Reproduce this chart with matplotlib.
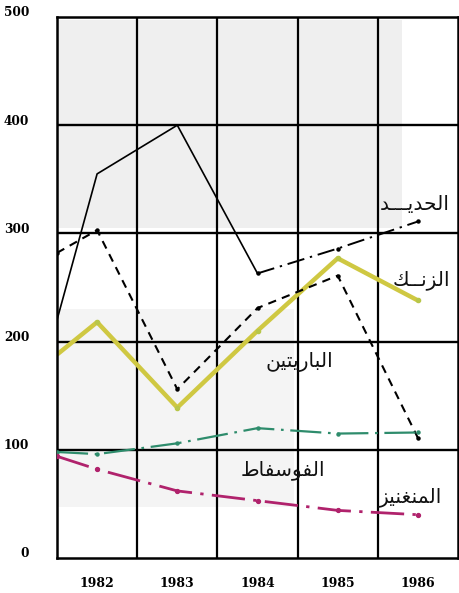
import matplotlib
matplotlib.use("Agg")
import matplotlib.pyplot as plt
import matplotlib.transforms as mtransforms
from matplotlib.patches import Rectangle

# ---------------- data ----------------
x_points = [1981.5, 1982, 1983, 1984, 1985, 1986]
iron = [220, 355, 400, 263, 286, 311]          # الحديد
zinc = [282, 303, 156, 231, 261, 111]          # الزنك
barite = [188, 218, 139, 210, 277, 238]        # الباريتين
phosphate = [98, 96, 106, 120, 115, 116]       # الفوسفاط
manganese = [94, 82, 62, 53, 44, 40]           # المنغنيز

year_ticks = [1982, 1983, 1984, 1985, 1986]
year_labels = ["1982", "1983", "1984", "1985", "1986"]
value_ticks = [0, 100, 200, 300, 400, 500]

# Arabic labels (pre-shaped with presentation forms, visual order)
label_iron = "\uFEAA\u0640\u0640\u0640\uFEF3\uFEAA\uFEA4\uFEDF\uFE8D"  # الحديـد
label_zinc = "\uFEDA\u0640\u0640\uFEE7\uFEB0\uFEDF\uFE8D"            # الزنـك
label_barite = "\uFEE6\uFEF4\uFE98\uFEF3\uFEAD\uFE8E\uFE92\uFEDF\uFE8D"  # الباريتين
label_phos = "\uFEC1\uFE8E\uFED4\uFEB3\uFEEE\uFED4\uFEDF\uFE8D"      # الفوسفاط
label_mang = "\uFEB0\uFEF4\uFEE8\uFED0\uFEE8\uFEE4\uFEDF\uFE8D"      # المنغنيز

# ---------------- figure ----------------
W, H = 459, 593
fig = plt.figure(figsize=(W / 100, H / 100), dpi=100)
left, right, bottom, top = 57, 458, 558, 17
ax = fig.add_axes([left / W, (H - bottom) / H, (right - left) / W, (bottom - top) / H])
ax.set_xlim(1981.5, 1986.5)
ax.set_ylim(0, 500)

# faint scan-like shading
ax.add_patch(Rectangle((1981.5, 305), 4.3, 192, facecolor="#efefef", edgecolor="none", zorder=0))
ax.add_patch(Rectangle((1981.45, 47), 3.0, 183, facecolor="#f4f4f4", edgecolor="none", zorder=0))

# grid
for gx in [1982.5, 1983.5, 1984.5, 1985.5]:
    ax.axvline(gx, color="black", lw=1.6, zorder=1)
for gy in [100, 200, 300, 400]:
    ax.axhline(gy, color="black", lw=1.7, zorder=1)
for s in ax.spines.values():
    s.set_linewidth(1.8)

# series
ax.plot(x_points[:4], iron[:4], color="black", lw=1.2, zorder=3)
ax.plot(x_points[3:], iron[3:], color="black", lw=1.4, ls=(0, (9, 3, 1.2, 3)),
        marker="o", ms=2.2, zorder=3)
ax.plot(x_points, zinc, color="black", lw=1.5, ls=(0, (4, 3)), marker="o", ms=2.2, zorder=3)
ax.plot(x_points, barite, color="#cfc842", lw=3.2, solid_capstyle="butt", zorder=2)
ax.plot(x_points[1:], barite[1:], ls="none", marker="o", ms=3, color="#b8c64a", zorder=2)
ax.plot(x_points, phosphate, color="#2e8c6c", lw=1.6, ls=(0, (14, 3, 1.2, 3)),
        marker="o", ms=2.2, zorder=3)
ax.plot(x_points, manganese, color="#b0226c", lw=2.0, ls=(0, (12, 3, 1.2, 3)),
        marker="o", ms=2.8, zorder=3)

# ticks
ax.set_xticks(year_ticks)
ax.set_xticklabels(year_labels)
ax.set_yticks(value_ticks)
ax.set_yticklabels([str(v) for v in value_ticks])
ax.tick_params(length=0, pad=0)
for lab in ax.get_xticklabels():
    lab.set_fontfamily("DejaVu Serif")
    lab.set_fontweight("bold")
    lab.set_fontsize(9)
    lab.set_transform(lab.get_transform() + mtransforms.ScaledTranslation(0, -14 / 72, fig.dpi_scale_trans))
for lab in ax.get_yticklabels():
    lab.set_fontfamily("DejaVu Serif")
    lab.set_fontweight("bold")
    lab.set_fontsize(8.7)
    lab.set_transform(lab.get_transform() + mtransforms.ScaledTranslation(-20 / 72, 4 / 72, fig.dpi_scale_trans))

# Arabic labels
tk = dict(fontsize=14.5, family=["DejaVu Sans"], ha="right", va="center", color="#111111", zorder=5)
ax.text(1986.4, 327, label_iron, **tk)
ax.text(1986.4, 257, label_zinc, **tk)
ax.text(1984.94, 181, label_barite, **tk)
ax.text(1984.84, 81, label_phos, **tk)
ax.text(1986.3, 56, label_mang, **tk)

fig.savefig("out.png", dpi=100)
